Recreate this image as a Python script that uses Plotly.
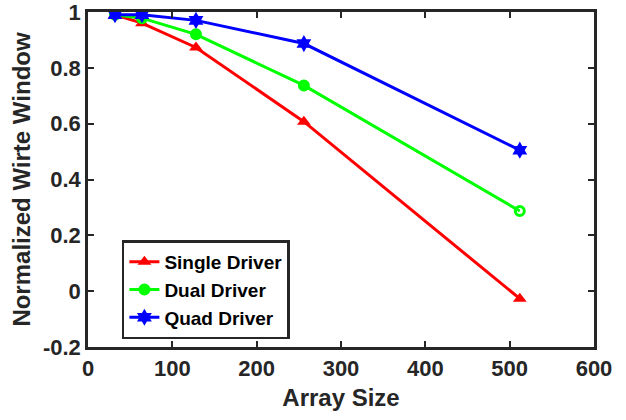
import plotly.graph_objects as go

array_size = [32, 64, 128, 256, 512]
single_driver = [0.99, 0.96, 0.873, 0.607, -0.027]
dual_driver = [0.99, 0.978, 0.92, 0.737, 0.287]
quad_driver = [0.99, 0.99, 0.97, 0.887, 0.505]

x_ticks = [0, 100, 200, 300, 400, 500, 600]
y_ticks = [-0.2, 0, 0.2, 0.4, 0.6, 0.8, 1]
y_tick_text = ["-0.2", "0", "0.2", "0.4", "0.6", "0.8", "1"]

fig = go.Figure()
fig.add_trace(go.Scatter(x=array_size, y=single_driver, mode="lines+markers",
                         name="Single Driver",
                         line=dict(color="#ff0000", width=3),
                         marker=dict(symbol="triangle-up", size=12, color="#ff0000")))
fig.add_trace(go.Scatter(x=array_size, y=dual_driver, mode="lines+markers",
                         name="Dual Driver",
                         line=dict(color="#00ff00", width=3),
                         marker=dict(symbol=["circle"] * 4 + ["circle-open"], size=9,
                                     color="#00ff00", line=dict(width=3, color="#00ff00"))))
fig.add_trace(go.Scatter(x=array_size, y=quad_driver, mode="lines+markers",
                         name="Quad Driver",
                         line=dict(color="#0000ff", width=3),
                         marker=dict(symbol="hexagram", size=13, color="#0000ff")))

axis_common = dict(showgrid=False, zeroline=False, showline=True, linecolor="#262626",
                   linewidth=2.5, mirror="ticks", ticks="inside", ticklen=6, tickwidth=2,
                   tickcolor="#262626", automargin=False, ticklabeloverflow="allow",
                   tickfont=dict(family="Liberation Sans", size=22, color="#262626",
                                 weight="bold"))

fig.update_layout(
    width=626, height=420,
    margin=dict(l=88, r=32, t=12, b=73),
    paper_bgcolor="white", plot_bgcolor="white",
    font=dict(family="Liberation Sans", color="#262626"),
    xaxis=dict(range=[0, 600], tickvals=x_ticks,
               title=dict(text="Array Size", standoff=10,
                          font=dict(size=24, color="#262626", weight="bold")),
               **axis_common),
    yaxis=dict(range=[-0.2, 1], tickvals=y_ticks, ticktext=y_tick_text,
               title=dict(text="Normalized Wirte Window", standoff=6,
                          font=dict(size=24, color="#262626", weight="bold")),
               **axis_common),
    legend=dict(x=0.067, y=0.318, xanchor="left", yanchor="top",
                bgcolor="white", bordercolor="#262626", borderwidth=2.5,
                font=dict(family="Liberation Sans", size=19, color="#000000", weight="bold"),
                tracegroupgap=0, itemwidth=30),
    showlegend=True,
)

fig.write_html("out.html", config={"displayModeBar": False},
               post_script="document.body.style.margin='0';")
